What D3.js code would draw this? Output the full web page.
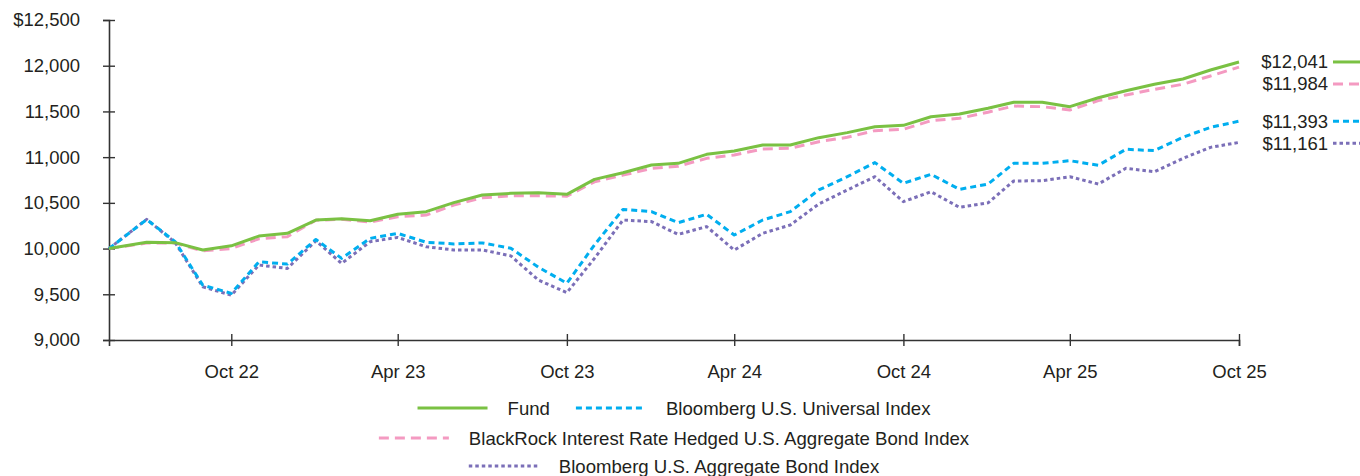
<!DOCTYPE html>
<html>
<head>
<meta charset="utf-8">
<script src="https://cdn.jsdelivr.net/npm/d3@7"></script>
<style>
  body { margin: 0; background: #fff; }
  svg text { font-family: "Liberation Sans", Arial, sans-serif; fill: #231f20; }
</style>
</head>
<body>
<div class="center"></div>
<script>
// month-end dates (first point is the inception date)
const dates = ["2022-06-20","2022-07-31","2022-08-31","2022-09-30","2022-10-31","2022-11-30","2022-12-31",
  "2023-01-31","2023-02-28","2023-03-31","2023-04-30","2023-05-31","2023-06-30","2023-07-31","2023-08-31",
  "2023-09-30","2023-10-31","2023-11-30","2023-12-31","2024-01-31","2024-02-29","2024-03-31","2024-04-30",
  "2024-05-31","2024-06-30","2024-07-31","2024-08-31","2024-09-30","2024-10-31","2024-11-30","2024-12-31",
  "2025-01-31","2025-02-28","2025-03-31","2025-04-30","2025-05-31","2025-06-30","2025-07-31","2025-08-31",
  "2025-09-30","2025-10-31"];

const fund = [10000,10068,10065,9985,10030,10137,10167,10312,10326,10305,10375,10404,10502,10586,10604,10611,
  10593,10757,10830,10914,10932,11031,11067,11133,11133,11213,11268,11333,11348,11442,11472,11534,11600,11600,
  11552,11650,11727,11797,11855,11953,12041];
const universal = [10000,10318,10075,9600,9510,9855,9830,10100,9893,10111,10166,10069,10051,10062,10004,9796,
  9621,10040,10428,10404,10283,10375,10148,10312,10404,10641,10786,10940,10714,10812,10648,10705,10932,10932,
  10961,10911,11086,11071,11217,11326,11393];
const hedged = [10000,10060,10060,9975,10000,10107,10130,10310,10320,10290,10348,10366,10475,10555,10577,10577,
  10573,10730,10803,10876,10901,10987,11023,11089,11097,11169,11217,11290,11304,11399,11425,11492,11559,11552,
  11516,11618,11680,11742,11797,11888,11984];
const aggregate = [10000,10320,10065,9582,9490,9820,9783,10085,9838,10075,10122,10020,9985,9985,9920,9656,
  9518,9893,10312,10295,10155,10240,9984,10167,10258,10488,10641,10786,10513,10622,10451,10500,10739,10742,
  10786,10706,10878,10841,10987,11107,11161];

const names = ["Fund", "Bloomberg U.S. Universal Index",
  "BlackRock Interest Rate Hedged U.S. Aggregate Bond Index", "Bloomberg U.S. Aggregate Bond Index"];
const yTicks = [9000, 9500, 10000, 10500, 11000, 11500, 12000, 12500];
const xTicks = ["2022-10-31","2023-04-30","2023-10-31","2024-04-30","2024-10-31","2025-04-30","2025-10-31"];

const W = 1360, H = 476;
const margin = {top: 20, right: 121, bottom: 136, left: 109};
const parseDate = d3.timeParse("%Y-%m-%d");

const series = [
  {name: names[0], values: fund,      color: "#7ac143", dash: null},
  {name: names[1], values: universal, color: "#00aeef", dash: "6,4"},
  {name: names[2], values: hedged,    color: "#f49ac1", dash: "10,6"},
  {name: names[3], values: aggregate, color: "#7b6fb8", dash: "3.5,3"}
];

const svg = d3.select(".center").append("svg")
  .attr("width", W).attr("height", H);

const xScale = d3.scaleTime()
  .domain([parseDate(dates[0]), parseDate(dates[dates.length - 1])])
  .range([margin.left, W - margin.right]);
const yScale = d3.scaleLinear()
  .domain([9000, 12500])
  .range([H - margin.bottom, margin.top]);

// y axis
const yAxis = svg.append("g")
  .attr("transform", `translate(${margin.left},0)`)
  .call(d3.axisLeft(yScale).tickValues(yTicks).tickSize(6)
    .tickFormat(d => d === 12500 ? "$12,500" : d3.format(",")(d)));
yAxis.select(".domain").attr("stroke", "#333").attr("stroke-width", 1.6);
yAxis.selectAll(".tick line").attr("x1", -6).attr("x2", 6).attr("stroke", "#333").attr("stroke-width", 1.4);
yAxis.selectAll(".tick text").attr("x", -29).style("font-size", "18.5px");

// x axis
const xAxis = svg.append("g")
  .attr("transform", `translate(0,${H - margin.bottom})`)
  .call(d3.axisBottom(xScale).tickValues(xTicks.map(parseDate)).tickSize(6)
    .tickFormat(d3.timeFormat("%b %y")));
xAxis.select(".domain").attr("stroke", "#333").attr("stroke-width", 1.6);
xAxis.selectAll(".tick line").attr("y1", -6).attr("y2", 6).attr("stroke", "#333").attr("stroke-width", 1.4);
xAxis.selectAll(".tick text").attr("y", 38).attr("dy", "0").style("font-size", "18.5px");

// lines
const line = d3.line()
  .x((d, i) => xScale(parseDate(dates[i])))
  .y(d => yScale(d));

const drawOrder = [2, 3, 1, 0];
drawOrder.forEach(k => {
  const s = series[k];
  svg.append("path")
    .datum(s.values)
    .attr("fill", "none")
    .attr("stroke", s.color)
    .attr("stroke-width", 3)
    .attr("stroke-dasharray", s.dash)
    .attr("stroke-linejoin", "round")
    .attr("d", line);
});

// end labels, pushed apart so they do not overlap
const ends = [0, 2, 1, 3].map(k => ({s: series[k], v: series[k].values[series[k].values.length - 1]}));
let prevY = -Infinity;
ends.forEach(e => {
  e.y = Math.max(yScale(e.v), prevY + 22);
  prevY = e.y;
});
ends.forEach(e => {
  svg.append("text")
    .attr("x", 1328).attr("y", e.y).attr("dy", "0.35em")
    .attr("text-anchor", "end")
    .style("font-size", "18.5px")
    .text("$" + d3.format(",")(e.v));
  svg.append("line")
    .attr("x1", 1333).attr("x2", 1360)
    .attr("y1", e.y).attr("y2", e.y)
    .attr("stroke", e.s.color).attr("stroke-width", 3)
    .attr("stroke-dasharray", e.s.dash);
});

// legend, rows centred under the plot
const legendRows = [[0, 1], [2], [3]];
const rowY = [408, 438, 466];
const cx = (margin.left + W - margin.right) / 2;
legendRows.forEach((row, r) => {
  const g = svg.append("g");
  let x = 0;
  row.forEach((k, j) => {
    const s = series[k];
    if (j > 0) x += 26;
    g.append("line")
      .attr("x1", x).attr("x2", x + 70)
      .attr("y1", rowY[r]).attr("y2", rowY[r])
      .attr("stroke", s.color).attr("stroke-width", 3)
      .attr("stroke-dasharray", s.dash);
    x += 90;
    const t = g.append("text")
      .attr("x", x).attr("y", rowY[r]).attr("dy", "0.35em")
      .style("font-size", "18.6px")
      .text(s.name);
    x += t.node().getComputedTextLength();
  });
  g.attr("transform", `translate(${cx - x / 2},0)`);
});
</script>
</body>
</html>
